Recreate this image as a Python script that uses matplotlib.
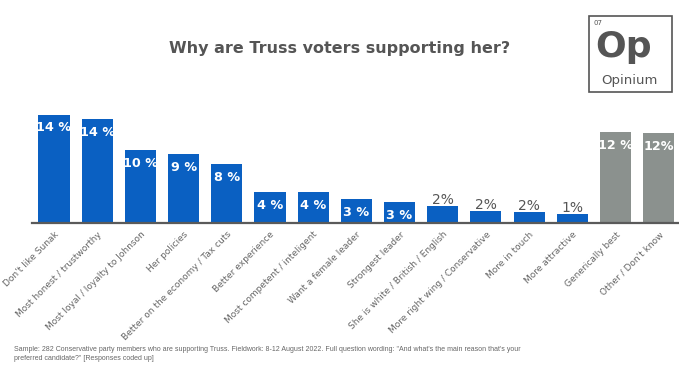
import matplotlib.pyplot as plt
from matplotlib.patches import Rectangle

categories = [
    "Don't like Sunak",
    "Most honest / trustworthy",
    "Most loyal / loyalty to Johnson",
    "Her policies",
    "Better on the economy / Tax cuts",
    "Better experience",
    "Most competent / inteligent",
    "Want a female leader",
    "Strongest leader",
    "She is white / British / English",
    "More right wing / Conservative",
    "More in touch",
    "More attractive",
    "Generically best",
    "Other / Don't know",
]
values = [14.2, 13.6, 9.5, 9.0, 7.7, 4.0, 4.0, 3.1, 2.7, 2.2, 1.6, 1.4, 1.2, 11.9, 11.8]
value_labels = ["14 %", "14 %", "10 %", "9 %", "8 %", "4 %", "4 %", "3 %", "3 %",
                "2%", "2%", "2%", "1%", "12 %", "12%"]
is_other = [False] * 13 + [True, True]

BLUE = "#0a60c2"
GREY = "#8b918e"
TEXT = "#555555"

fig = plt.figure(figsize=(6.79, 3.83), dpi=100)
ax = fig.add_axes([32 / 679, 160 / 383, 647 / 679, 123 / 383])

x = list(range(len(categories)))
colors = [GREY if o else BLUE for o in is_other]
ax.bar(x, values, width=0.72, color=colors, zorder=2)

for xi, v, lab in zip(x, values, value_labels):
    if v >= 2.5:
        ax.annotate(lab, (xi, v), xytext=(0, -9.5), textcoords="offset points",
                    ha="center", va="center", color="white", fontsize=9.2,
                    fontweight="bold")
    else:
        ax.annotate(lab, (xi, v), xytext=(0, 4.5), textcoords="offset points",
                    ha="center", va="center", color=TEXT, fontsize=10)

ax.set_xlim(-0.51, 14.47)
ax.set_ylim(0, 16.1)
ax.set_xticks(x)
ax.set_xticklabels(categories, rotation=45, ha="right", va="top",
                   rotation_mode="anchor", fontsize=6.5, color="#666666")
ax.tick_params(axis="x", length=0, pad=5)
ax.set_yticks([])
for side in ["top", "right", "left"]:
    ax.spines[side].set_visible(False)
ax.spines["bottom"].set_color("#5a5a5a")
ax.spines["bottom"].set_linewidth(1.6)

fig.text(340 / 679, 1 - 48 / 383, "Why are Truss voters supporting her?",
         ha="center", va="center", fontsize=11.5, fontweight="bold", color=TEXT)

# logo
fig.patches.append(Rectangle((589 / 679, 1 - 92 / 383), 83 / 679, 76 / 383,
                             transform=fig.transFigure, fill=False,
                             edgecolor="#555555", linewidth=1.2))
fig.text(593 / 679, 1 - 23 / 383, "07", fontsize=5, color=TEXT, va="center")
fig.text(624 / 679, 1 - 57 / 383, "Op", fontsize=26, fontweight="bold",
         color=TEXT, ha="center", va="baseline")
fig.text(629 / 679, 1 - 84 / 383, "Opinium", fontsize=9.5, color=TEXT,
         ha="center", va="baseline")

fig.text(14 / 679, 1 - 354 / 383,
         "Sample: 282 Conservative party members who are supporting Truss. Fieldwork: 8-12 August 2022. "
         "Full question wording: \"And what's the main reason that's your\npreferred candidate?\" "
         "[Responses coded up]",
         ha="left", va="center", fontsize=5.0, color="#666666",
         family="Liberation Sans", linespacing=1.4)

fig.savefig("out.png", dpi=100)
